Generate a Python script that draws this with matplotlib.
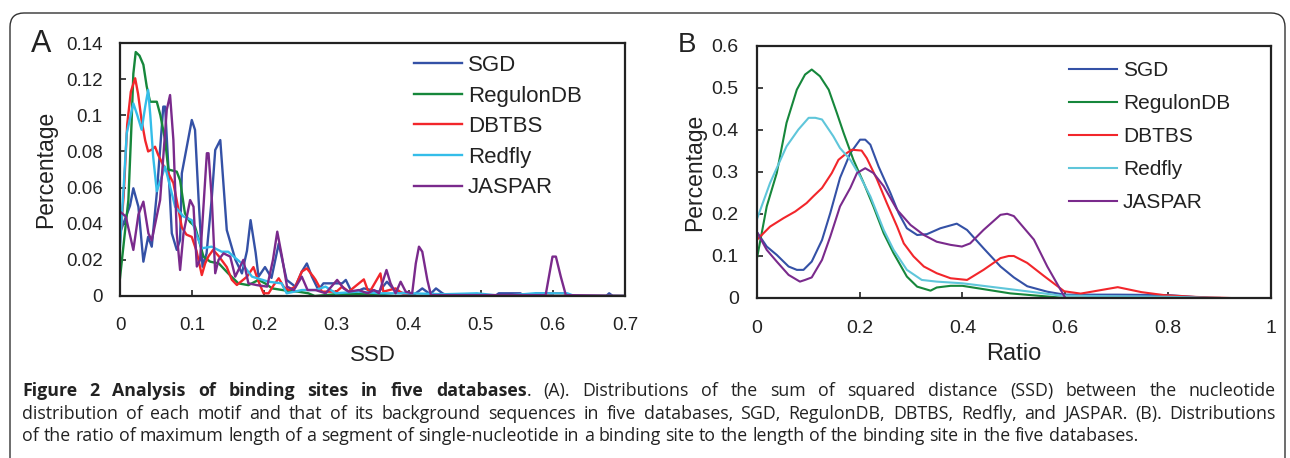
import matplotlib.pyplot as plt
from matplotlib.patches import FancyBboxPatch
from matplotlib.ticker import FuncFormatter

plt.rcParams["font.family"] = ["Liberation Sans", "DejaVu Sans"]

W, H = 1290, 458

series_names = ["SGD", "RegulonDB", "DBTBS", "Redfly", "JASPAR"]
colors_a = ["#3451a6", "#16873b", "#f2262b", "#34bde9", "#7a2a8c"]
colors_b = ["#3451a6", "#16873b", "#f2262b", "#5fc6da", "#7a2a8c"]

# panel A: distribution of SSD, (SSD, percentage) points
ssd_sgd = [(0.0, 0.035), (0.0139, 0.05), (0.0185, 0.0596), (0.0255, 0.0494), (0.0324, 0.019),
           (0.039, 0.0328), (0.044, 0.0273), (0.051, 0.0568), (0.060, 0.1048), (0.0625, 0.1048),
           (0.067, 0.0716), (0.0718, 0.0347), (0.0787, 0.0255), (0.0833, 0.031), (0.0857, 0.0679),
           (0.0926, 0.0826), (0.0995, 0.0974), (0.104, 0.0919), (0.109, 0.0531), (0.1144, 0.0162),
           (0.120, 0.0236), (0.127, 0.0531), (0.132, 0.0808), (0.139, 0.0863), (0.148, 0.0365),
           (0.160, 0.020), (0.169, 0.0125), (0.176, 0.025), (0.181, 0.042), (0.188, 0.024),
           (0.192, 0.0107), (0.201, 0.016), (0.210, 0.010), (0.220, 0.029), (0.231, 0.0089),
           (0.243, 0.0052), (0.252, 0.0135), (0.259, 0.018), (0.266, 0.0107), (0.275, 0.0033),
           (0.282, 0.007), (0.308, 0.007), (0.313, 0.0089), (0.322, 0.0015), (0.338, 0.0042),
           (0.359, 0.0024), (0.370, 0.0079), (0.382, 0.0024), (0.396, 0.0015), (0.405, 0.0),
           (0.419, 0.0042), (0.430, 0.001), (0.438, 0.0042), (0.447, 0.0015), (0.455, 0.0),
           (0.520, 0.0), (0.525, 0.0015), (0.555, 0.0015), (0.560, 0.0), (0.572, 0.0),
           (0.576, 0.0015), (0.595, 0.0015), (0.600, 0.0), (0.674, 0.0), (0.678, 0.0015),
           (0.683, 0.0), (0.700, 0.0)]
ssd_regulondb = [(0.0, 0.010), (0.0116, 0.053), (0.016, 0.0955), (0.0185, 0.123), (0.0218, 0.135),
                 (0.027, 0.133), (0.0324, 0.128), (0.037, 0.116), (0.0417, 0.1075), (0.051, 0.1075),
                 (0.056, 0.100), (0.0625, 0.0863), (0.067, 0.070), (0.0787, 0.0688), (0.0833, 0.064),
                 (0.090, 0.0457), (0.097, 0.041), (0.104, 0.0384), (0.110, 0.030), (0.1157, 0.0218),
                 (0.125, 0.019), (0.137, 0.018), (0.150, 0.0125), (0.164, 0.007), (0.178, 0.006),
                 (0.192, 0.0089), (0.201, 0.007), (0.211, 0.0042), (0.230, 0.003), (0.247, 0.0024),
                 (0.261, 0.0015), (0.270, 0.0), (0.300, 0.001), (0.350, 0.001), (0.380, 0.0),
                 (0.480, 0.0), (0.490, 0.001), (0.500, 0.0), (0.700, 0.0)]
ssd_dbtbs = [(0.0, 0.030), (0.005, 0.055), (0.010, 0.095), (0.015, 0.113), (0.021, 0.1205),
             (0.025, 0.112), (0.030, 0.097), (0.035, 0.086), (0.039, 0.080), (0.044, 0.081),
             (0.0486, 0.0826), (0.053, 0.078), (0.058, 0.074), (0.063, 0.070), (0.067, 0.068),
             (0.074, 0.0625), (0.080, 0.050), (0.0857, 0.038), (0.092, 0.034), (0.0995, 0.0327),
             (0.106, 0.025), (0.111, 0.016), (0.1134, 0.0116), (0.118, 0.018), (0.1227, 0.022),
             (0.129, 0.0255), (0.137, 0.022), (0.148, 0.016), (0.155, 0.009), (0.162, 0.0061),
             (0.176, 0.0107), (0.185, 0.016), (0.192, 0.008), (0.199, 0.0015), (0.206, 0.0015),
             (0.213, 0.006), (0.220, 0.0098), (0.227, 0.005), (0.234, 0.0033), (0.243, 0.0052),
             (0.252, 0.0135), (0.259, 0.0153), (0.268, 0.0107), (0.271, 0.009), (0.280, 0.0024),
             (0.300, 0.0024), (0.308, 0.0052), (0.317, 0.0024), (0.338, 0.0092), (0.345, 0.0015),
             (0.361, 0.0125), (0.365, 0.0024), (0.382, 0.0042), (0.391, 0.0015), (0.400, 0.0),
             (0.590, 0.0), (0.595, 0.0015), (0.615, 0.0015), (0.620, 0.0), (0.700, 0.0)]
ssd_redfly = [(0.0, 0.027), (0.005, 0.060), (0.0093, 0.090), (0.0185, 0.1066), (0.024, 0.100),
              (0.030, 0.092), (0.035, 0.105), (0.039, 0.114), (0.042, 0.100), (0.046, 0.077),
              (0.051, 0.058), (0.057, 0.065), (0.0625, 0.0716), (0.0694, 0.0606), (0.0764, 0.0494),
              (0.088, 0.044), (0.0995, 0.042), (0.106, 0.034), (0.1134, 0.0264), (0.127, 0.0273),
              (0.141, 0.0245), (0.150, 0.0245), (0.160, 0.021), (0.169, 0.018), (0.183, 0.0107),
              (0.206, 0.0079), (0.224, 0.007), (0.231, 0.0015), (0.252, 0.0033), (0.271, 0.0033),
              (0.285, 0.0052), (0.299, 0.0015), (0.330, 0.0024), (0.360, 0.0015), (0.400, 0.0015),
              (0.450, 0.001), (0.495, 0.0015), (0.530, 0.0), (0.574, 0.0015), (0.620, 0.0015),
              (0.630, 0.0), (0.700, 0.0)]
ssd_jaspar = [(0.0, 0.0467), (0.008, 0.044), (0.0185, 0.0255), (0.0255, 0.045), (0.0324, 0.0522),
              (0.0394, 0.0346), (0.044, 0.0308), (0.0556, 0.0531), (0.0648, 0.103), (0.0694, 0.1112),
              (0.074, 0.0863), (0.0787, 0.0346), (0.0833, 0.0144), (0.088, 0.0346), (0.0972, 0.0531),
              (0.1019, 0.0494), (0.1065, 0.0163), (0.111, 0.020), (0.1204, 0.079), (0.1227, 0.079),
              (0.1273, 0.0531), (0.132, 0.0126), (0.1366, 0.020), (0.1435, 0.0236), (0.1528, 0.0218),
              (0.1597, 0.0107), (0.171, 0.020), (0.178, 0.007), (0.190, 0.006), (0.204, 0.0052),
              (0.212, 0.020), (0.218, 0.0356), (0.2245, 0.0218), (0.2315, 0.0052), (0.241, 0.0033),
              (0.252, 0.0107), (0.260, 0.0033), (0.271, 0.0033), (0.285, 0.0015), (0.301, 0.0089),
              (0.310, 0.0042), (0.317, 0.0024), (0.331, 0.0033), (0.343, 0.0015), (0.352, 0.0033),
              (0.359, 0.0015), (0.3694, 0.0144), (0.375, 0.007), (0.382, 0.0015), (0.389, 0.0079),
              (0.396, 0.0024), (0.405, 0.0015), (0.410, 0.018), (0.4144, 0.0273), (0.419, 0.0245),
              (0.426, 0.0089), (0.431, 0.0005), (0.590, 0.0005), (0.5995, 0.0218), (0.6042, 0.0218),
              (0.611, 0.0107), (0.618, 0.0005), (0.700, 0.0)]

# panel B: distribution of the longest single-nucleotide run / site length
ratio_sgd = [(0.0, 0.158), (0.0195, 0.1225), (0.039, 0.1026), (0.062, 0.075), (0.078, 0.067),
             (0.091, 0.067), (0.107, 0.0867), (0.127, 0.138), (0.143, 0.202), (0.162, 0.286),
             (0.182, 0.345), (0.201, 0.377), (0.211, 0.377), (0.221, 0.365), (0.237, 0.313),
             (0.260, 0.250), (0.276, 0.202), (0.292, 0.166), (0.312, 0.150), (0.331, 0.152),
             (0.357, 0.166), (0.389, 0.177), (0.409, 0.162), (0.441, 0.1185), (0.474, 0.075),
             (0.500, 0.049), (0.526, 0.028), (0.565, 0.015), (0.598, 0.008), (0.700, 0.008),
             (0.800, 0.007), (0.880, 0.0)]
ratio_regulondb = [(0.0, 0.091), (0.0195, 0.218), (0.039, 0.2975), (0.058, 0.417), (0.078, 0.496),
                   (0.094, 0.532), (0.107, 0.544), (0.123, 0.528), (0.140, 0.496), (0.156, 0.440),
                   (0.169, 0.393), (0.188, 0.329), (0.208, 0.274), (0.227, 0.218), (0.247, 0.154),
                   (0.266, 0.107), (0.292, 0.051), (0.312, 0.027), (0.338, 0.0175), (0.350, 0.025),
                   (0.377, 0.029), (0.400, 0.029), (0.493, 0.011), (0.590, 0.001), (0.700, 0.0),
                   (0.900, 0.0)]
ratio_dbtbs = [(0.0, 0.138), (0.026, 0.170), (0.052, 0.190), (0.075, 0.206), (0.097, 0.226),
               (0.110, 0.242), (0.127, 0.262), (0.146, 0.2975), (0.159, 0.329), (0.175, 0.345),
               (0.185, 0.353), (0.204, 0.351), (0.214, 0.333), (0.234, 0.282), (0.253, 0.226),
               (0.273, 0.170), (0.286, 0.130), (0.305, 0.099), (0.325, 0.075), (0.350, 0.059),
               (0.377, 0.047), (0.409, 0.043), (0.441, 0.067), (0.474, 0.095), (0.490, 0.100),
               (0.500, 0.100), (0.526, 0.0835), (0.559, 0.052), (0.598, 0.016), (0.630, 0.0105),
               (0.702, 0.0258), (0.748, 0.014), (0.793, 0.0067), (0.852, 0.0027), (0.891, 0.001),
               (0.920, 0.0)]
ratio_redfly = [(0.0, 0.186), (0.026, 0.274), (0.058, 0.361), (0.081, 0.401), (0.101, 0.429),
                (0.114, 0.429), (0.127, 0.425), (0.149, 0.385), (0.162, 0.357), (0.182, 0.329),
                (0.201, 0.290), (0.221, 0.242), (0.247, 0.162), (0.266, 0.115), (0.292, 0.067),
                (0.321, 0.043), (0.350, 0.039), (0.400, 0.035), (0.493, 0.021), (0.590, 0.006),
                (0.700, 0.004), (0.800, 0.003), (0.900, 0.0)]
ratio_jaspar = [(0.0, 0.158), (0.0195, 0.1146), (0.039, 0.0867), (0.062, 0.055), (0.084, 0.039),
                (0.094, 0.043), (0.107, 0.049), (0.127, 0.0907), (0.143, 0.146), (0.162, 0.218),
                (0.182, 0.262), (0.195, 0.2975), (0.211, 0.309), (0.227, 0.2975), (0.247, 0.266),
                (0.273, 0.210), (0.299, 0.174), (0.325, 0.150), (0.350, 0.134), (0.377, 0.1265),
                (0.399, 0.1225), (0.415, 0.130), (0.441, 0.162), (0.474, 0.198), (0.487, 0.2005),
                (0.500, 0.195), (0.539, 0.139), (0.565, 0.075), (0.600, 0.0), (0.900, 0.0)]

ssd_series = [ssd_sgd, ssd_regulondb, ssd_dbtbs, ssd_redfly, ssd_jaspar]
ratio_series = [ratio_sgd, ratio_regulondb, ratio_dbtbs, ratio_redfly, ratio_jaspar]

ssd_ticks = [0, 0.1, 0.2, 0.3, 0.4, 0.5, 0.6, 0.7]
ssd_pct_ticks = [0, 0.02, 0.04, 0.06, 0.08, 0.1, 0.12, 0.14]
ratio_ticks = [0, 0.2, 0.4, 0.6, 0.8, 1]
ratio_pct_ticks = [0, 0.1, 0.2, 0.3, 0.4, 0.5, 0.6]

caption_lines = [
    [("Figure 2 Analysis of binding sites in five databases", "bold"),
     (". (A). Distributions of the sum of squared distance (SSD) between the nucleotide", "normal")],
    [("distribution of each motif and that of its background sequences in five databases, SGD, "
      "RegulonDB, DBTBS, Redfly, and JASPAR. (B). Distributions", "normal")],
    [("of the ratio of maximum length of a segment of single-nucleotide in a binding site to the "
      "length of the binding site in the five databases.", "normal")],
]
caption_baselines = [396, 419, 441]
caption_justify = [True, True, False]
CAP_FONT = ["Open Sans", "DejaVu Sans"]
CAP_SIZE = 12.8
CAP_LEFT, CAP_RIGHT = 22, 1276


def split_words(segments):
    words = [[]]
    for text, weight in segments:
        for i, part in enumerate(text.split(" ")):
            if i > 0:
                words.append([])
            if part:
                words[-1].append((part, weight))
    return [w for w in words if w]


def style_axis(ax, xticks, yticks, labelsize, xpad, ypad):
    fmt = FuncFormatter(lambda v, _: f"{v:g}")
    ax.set_xticks(xticks)
    ax.set_yticks(yticks)
    ax.xaxis.set_major_formatter(fmt)
    ax.yaxis.set_major_formatter(fmt)
    ax.tick_params(direction="in", length=4, width=1.2, labelsize=labelsize, colors="#222222")
    ax.tick_params(axis="x", pad=xpad)
    ax.tick_params(axis="y", pad=ypad)
    for s in ax.spines.values():
        s.set_linewidth(1.6)
        s.set_color("#222222")
    ax.set_facecolor("none")


fig = plt.figure(figsize=(W / 100, H / 100), dpi=100)

# background layer in pixel coordinates: rounded frame, panel letters, caption
bg = fig.add_axes([0, 0, 1, 1])
bg.set_xlim(0, W)
bg.set_ylim(H, 0)
bg.axis("off")
bg.add_patch(FancyBboxPatch((10, 13), 1275, 480, boxstyle="round,pad=0,rounding_size=14",
                            fc="white", ec="#333333", lw=1.0))
bg.text(31, 52, "A", fontsize=22, va="baseline", ha="left", color="#222222")
bg.text(678, 52, "B", fontsize=20, va="baseline", ha="left", color="#222222")

# panel A
axA = fig.add_axes([120 / W, 1 - 296 / H, 505 / W, 253 / H])
for pts, name, c in zip(ssd_series, series_names, colors_a):
    xs, ys = zip(*pts)
    axA.plot(xs, ys, color=c, lw=1.7, label=name, solid_joinstyle="round")
axA.set_xlim(0, 0.7)
axA.set_ylim(0, 0.14)
style_axis(axA, ssd_ticks, ssd_pct_ticks, 13.5, 15, 12.5)
axA.set_xlabel("SSD", fontsize=16, labelpad=8, color="#222222")
axA.set_ylabel("Percentage", fontsize=16.5, labelpad=6, color="#222222")
axA.legend(loc="upper left", bbox_to_anchor=(0.582, 0.952), frameon=False, fontsize=16,
           handlelength=2.15, handletextpad=0.28, labelspacing=0.43,
           borderpad=0, borderaxespad=0, labelcolor="#222222")

# panel B
axB = fig.add_axes([756.7 / W, 1 - 298 / H, 514.3 / W, 252 / H])
for pts, name, c in zip(ratio_series, series_names, colors_b):
    xs, ys = zip(*pts)
    axB.plot(xs, ys, color=c, lw=1.5, label=name, solid_joinstyle="round")
axB.set_xlim(0, 1)
axB.set_ylim(0, 0.6)
style_axis(axB, ratio_ticks, ratio_pct_ticks, 14, 16, 13)
axB.set_xlabel("Ratio", fontsize=17, labelpad=4, color="#222222")
axB.set_ylabel("Percentage", fontsize=16.5, labelpad=4, color="#222222")
axB.legend(loc="upper left", bbox_to_anchor=(0.607, 0.94), frameon=False, fontsize=15,
           handlelength=2.3, handletextpad=0.3, labelspacing=0.67,
           borderpad=0, borderaxespad=0, labelcolor="#222222")

# caption, justified word by word
renderer = fig.canvas.get_renderer()
probe = bg.text(0, 0, "a a", fontsize=CAP_SIZE, family=CAP_FONT)
probe2 = bg.text(0, 0, "aa", fontsize=CAP_SIZE, family=CAP_FONT)
space_w = probe.get_window_extent(renderer).width - probe2.get_window_extent(renderer).width
probe.remove()
probe2.remove()
for segments, baseline, justify in zip(caption_lines, caption_baselines, caption_justify):
    placed = []
    for word in split_words(segments):
        pieces = []
        for text, weight in word:
            t = bg.text(0, baseline, text, fontsize=CAP_SIZE, fontweight=weight, family=CAP_FONT,
                        va="baseline", ha="left", color="#222222")
            pieces.append((t, t.get_window_extent(renderer).width))
        placed.append(pieces)
    total = sum(w for pieces in placed for _, w in pieces)
    gap = (CAP_RIGHT - CAP_LEFT - total) / (len(placed) - 1) if justify else space_w
    x = CAP_LEFT
    for pieces in placed:
        for t, w in pieces:
            t.set_x(x)
            x += w
        x += gap

fig.savefig("out.png", dpi=100)
